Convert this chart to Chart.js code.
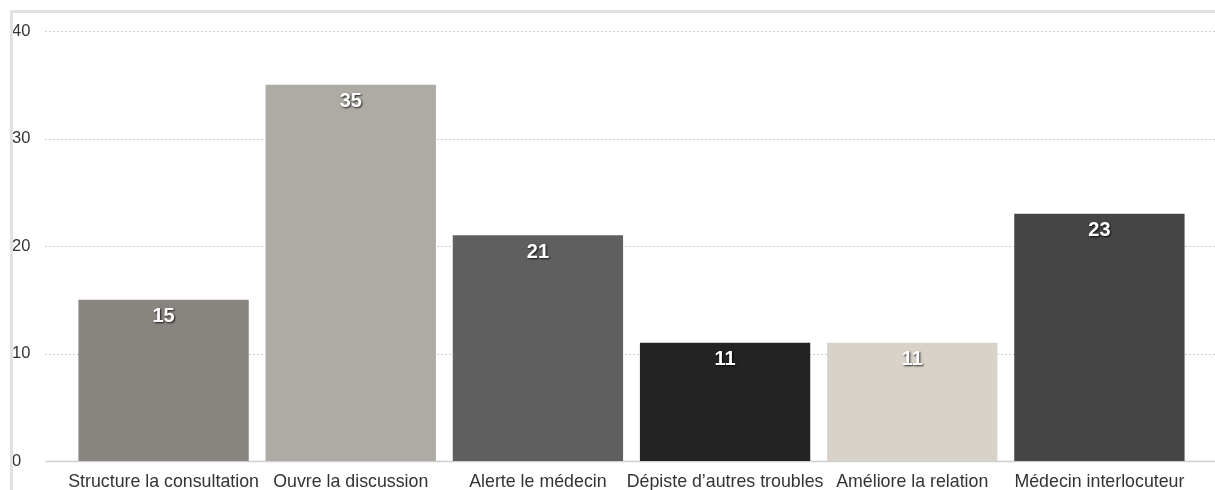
<!DOCTYPE html>
<html lang="fr">
<head>
    <meta charset="UTF-8">
    <title>Apports de l'outil</title>
    <script src="https://cdn.jsdelivr.net/npm/chart.js"></script>
    <style>
        body { margin: 0; background: #fff; }
        .chart-box { position: relative; width: 1215px; height: 490px; }
    </style>
</head>
<body>

<div class="chart-box">
    <canvas id="graphique"></canvas>
</div>

<script>
    // Données
    const categories = ['Structure la consultation', 'Ouvre la discussion', 'Alerte le médecin',
        'Dépiste d\u2019autres troubles', 'Améliore la relation', 'Médecin interlocuteur'];
    const valeurs = [15, 35, 21, 11, 11, 23];
    const couleurs = ['#888480', '#aeaaa4', '#5f5f5f', '#232323', '#d8d2c8', '#454545'];
    const ticksY = [0, 10, 20, 30, 40];

    const police = '"Liberation Sans", Arial, Helvetica, sans-serif';

    // cadre gris en haut et à gauche + lignes de grille qui débordent de la zone
    const fondPlugin = {
        id: 'fond',
        beforeDatasetsDraw(chart) {
            const ctx = chart.ctx;
            const y = chart.scales.y;
            ctx.save();
            ctx.strokeStyle = '#e2e2e2';
            ctx.lineWidth = 3;
            ctx.beginPath();
            ctx.moveTo(11.5, chart.height);
            ctx.lineTo(11.5, 11.5);
            ctx.lineTo(chart.width, 11.5);
            ctx.stroke();

            ticksY.forEach(v => {
                const py = Math.round(y.getPixelForValue(v)) + 0.5;
                ctx.beginPath();
                if (v === 0) {
                    ctx.setLineDash([]);
                    ctx.strokeStyle = '#cfcfcf';
                    ctx.lineWidth = 1.5;
                } else {
                    ctx.setLineDash([2, 2]);
                    ctx.strokeStyle = '#c4c4c4';
                    ctx.lineWidth = 0.8;
                }
                ctx.moveTo(45, py);
                ctx.lineTo(chart.width, py);
                ctx.stroke();
            });
            ctx.restore();
        }
    };

    // valeurs blanches avec ombre en haut des barres
    const valeursPlugin = {
        id: 'valeurs',
        afterDatasetsDraw(chart) {
            const ctx = chart.ctx;
            const meta = chart.getDatasetMeta(0);
            ctx.save();
            ctx.font = 'bold 20px ' + police;
            ctx.textAlign = 'center';
            ctx.textBaseline = 'middle';
            ctx.fillStyle = '#ffffff';
            ctx.shadowColor = 'rgba(0,0,0,0.8)';
            ctx.shadowBlur = 2;
            ctx.shadowOffsetX = 1;
            ctx.shadowOffsetY = 1;
            meta.data.forEach((bar, i) => {
                ctx.fillText(String(valeurs[i]), bar.x, bar.y + 17);
            });
            ctx.restore();
        }
    };

    new Chart(document.getElementById('graphique'), {
        type: 'bar',
        data: {
            labels: categories,
            datasets: [{
                data: valeurs,
                backgroundColor: couleurs,
                borderWidth: 0,
                categoryPercentage: 1,
                barPercentage: 0.91
            }]
        },
        options: {
            responsive: true,
            maintainAspectRatio: false,
            animation: false,
            layout: { padding: { left: 12, right: 22, top: 31, bottom: 0 } },
            plugins: {
                legend: { display: false },
                tooltip: { enabled: false }
            },
            scales: {
                x: {
                    grid: { display: false, drawTicks: false },
                    border: { display: false },
                    ticks: {
                        color: '#333333',
                        font: { family: police, size: 17.8 },
                        padding: 10,
                        maxRotation: 0,
                        autoSkip: false
                    },
                    afterFit(scale) { scale.height = 29; }
                },
                y: {
                    min: 0,
                    max: 40,
                    grid: { display: false, drawTicks: false },
                    border: { display: false },
                    ticks: {
                        stepSize: 10,
                        color: '#333333',
                        font: { family: police, size: 16.5 },
                        crossAlign: 'far',
                        padding: 0
                    },
                    afterFit(scale) { scale.width = 58; }
                }
            }
        },
        plugins: [fondPlugin, valeursPlugin]
    });
</script>

</body>
</html>
